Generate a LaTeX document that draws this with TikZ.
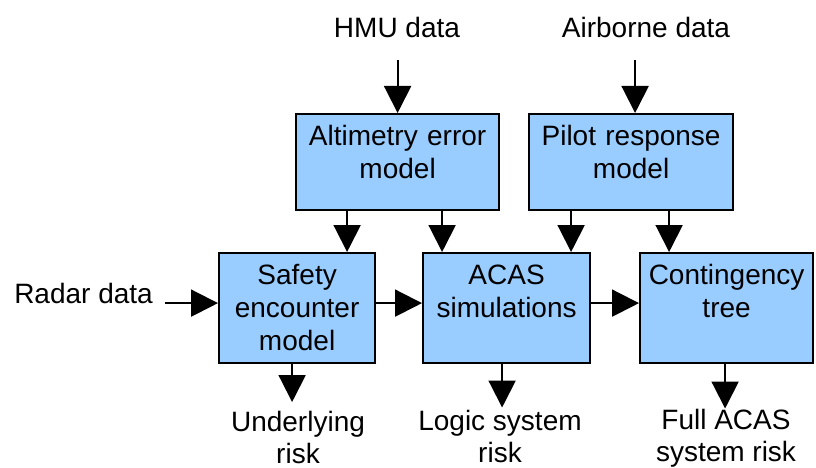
\documentclass[tikz,border=0pt]{standalone}
\usepackage{fontspec}
\setmainfont{Liberation Sans}
\usetikzlibrary{arrows.meta,calc}
\definecolor{boxblue}{RGB}{153,204,255}
\tikzset{
  >={Triangle[length=27pt,width=27pt]},
  blk/.style={draw=black,fill=boxblue,line width=2.2pt,anchor=north west,
    align=center,inner sep=0pt,text height=31.5pt,
    font=\fontsize{28}{33}\selectfont},
  lbl/.style={align=center,inner sep=0pt,anchor=base,
    font=\fontsize{28}{32}\selectfont},
  flow/.style={->,line width=2pt},
}
\begin{document}
\begin{tikzpicture}[x=1pt,y=-1pt]
  \useasboundingbox (0,0) rectangle (816,468);
  \node[blk,text width=203pt,text depth=64.5pt] (alt) at (295,113)
    {Altimetry error\\model};
  \node[blk,text width=204pt,text depth=64.5pt] (pil) at (528,113)
    {Pilot response\\model};
  \node[blk,text width=156pt,text depth=78.5pt] (saf) at (218,252)
    {Safety\\encounter\\model};
  \node[blk,text width=167pt,text depth=78.5pt] (acas) at (422,252)
    {ACAS\\simulations};
  \node[blk,text width=173pt,text depth=78.5pt] (cont) at (639,252)
    {Contingency\\tree};
  \node[lbl] (hmu) at (397,38) {HMU data};
  \node[lbl] (air) at (646,38) {Airborne data};
  \node[lbl,anchor=base east] (radar) at (153,303) {Radar data};
  \node[lbl] (und) at (298,463) {Underlying\\risk};
  \node[lbl] (logic) at (500,462) {Logic system\\risk};
  \node[lbl] (full) at (726,461) {Full ACAS\\system risk};
  \coordinate (sin) at ([yshift=5pt]saf.west);
  \draw[flow,shorten <=22pt] (hmu.south -| alt.north) -- (alt.north);
  \draw[flow,shorten <=22pt] ([xshift=4pt]pil.north |- air.south)
    -- ([xshift=4pt]pil.north);
  \draw[flow] ([xshift=50pt]saf.north |- alt.south) -- ([xshift=50pt]saf.north);
  \draw[flow] ([xshift=-64.5pt]acas.north |- alt.south)
    -- ([xshift=-64.5pt]acas.north);
  \draw[flow] ([xshift=64.5pt]acas.north |- pil.south)
    -- ([xshift=64.5pt]acas.north);
  \draw[flow] ([xshift=-57.5pt]cont.north |- pil.south)
    -- ([xshift=-57.5pt]cont.north);
  \draw[flow,shorten <=12pt] (radar.east |- sin) -- (sin);
  \draw[flow] ([yshift=5pt]saf.east) -- ([yshift=5pt]acas.west);
  \draw[flow] ([yshift=5pt]acas.east) -- ([yshift=5pt]cont.west);
  \draw[flow,shorten >=8.5pt] ([xshift=-5pt]saf.south)
    -- ([xshift=-5pt]saf.south |- und.north);
  \draw[flow,shorten >=2pt] ([xshift=-4.5pt]acas.south)
    -- ([xshift=-4.5pt]acas.south |- logic.north);
  \draw[flow] ([xshift=-1.5pt]cont.south)
    -- ([xshift=-1.5pt]cont.south |- full.north);
\end{tikzpicture}
\end{document}
